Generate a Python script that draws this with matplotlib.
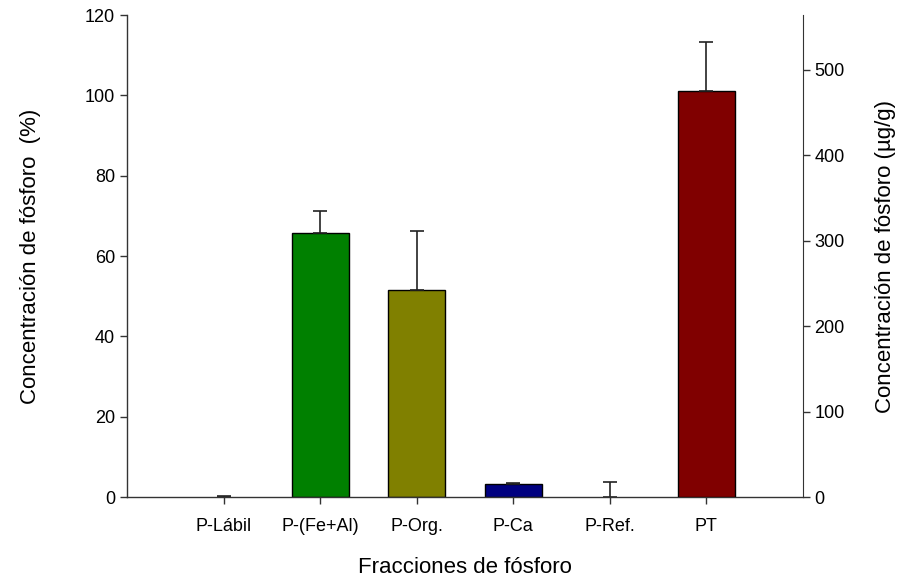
import matplotlib
matplotlib.use("Agg")
import matplotlib.pyplot as plt

plt.rcParams['font.family'] = ['Liberation Sans', 'DejaVu Sans']

categories = ["P-Lábil", "P-(Fe+Al)", "P-Org.", "P-Ca", "P-Ref.", "PT"]
pct_values = [0.0, 65.8, 51.5, 3.2, 0.0]
pct_errors = [0.3, 5.4, 14.7, 0.4, 3.8]
pt_value = [475.0]
pt_error = [57.5]
colors = ["#008000", "#008000", "#808000", "#000080", "#800000", "#800000"]
left_ticks = [0, 20, 40, 60, 80, 100, 120]
right_ticks = [0, 100, 200, 300, 400, 500]

fig = plt.figure(figsize=(8.97, 5.8), dpi=100)
ax = fig.add_axes([0.1416, 0.143, 0.7534, 0.831])
x = list(range(len(categories)))
edge_widths = [1.0 if v > 0 else 0.0 for v in pct_values]
ax.bar(x[:5], pct_values, width=0.59, color=colors[:5], edgecolor="black", linewidth=edge_widths,
       yerr=[[0]*5, pct_errors], error_kw=dict(ecolor="#222222", elinewidth=1.2, capsize=5, capthick=1.2))
ax.set_ylim(0, 120)
ax.set_xlim(-1.0, 6.0)
ax.set_yticks(left_ticks)
ax.set_xticks(x)
ax.set_xticklabels(categories)
ax.spines['top'].set_visible(False)
ax.spines['right'].set_visible(False)
for s in ['left', 'bottom']:
    ax.spines[s].set_color("#333333")
    ax.spines[s].set_linewidth(1.0)
ax.tick_params(axis='both', direction='out', length=5, width=1.0, colors="#333333", labelcolor="black", labelsize=13)
ax.tick_params(axis='x', pad=10)
ax.set_ylabel("Concentración de fósforo  (%)", fontsize=16, labelpad=32)
ax.set_xlabel("Fracciones de fósforo", fontsize=16, labelpad=16)

ax2 = ax.twinx()
ax2.bar([5], pt_value, width=0.59, color=colors[5], edgecolor="black", linewidth=1.0,
        yerr=[[0], pt_error], error_kw=dict(ecolor="#222222", elinewidth=1.2, capsize=5, capthick=1.2))
ax2.set_ylim(0, 564)
ax2.set_yticks(right_ticks)
ax2.spines['top'].set_visible(False)
ax2.spines['left'].set_visible(False)
ax2.spines['bottom'].set_visible(False)
ax2.spines['right'].set_color("#333333")
ax2.tick_params(axis='y', direction='out', length=5, width=1.0, colors="#333333", labelcolor="black", labelsize=13)
ax2.set_ylabel("Concentración de fósforo (µg/g)", fontsize=16, labelpad=22)

fig.savefig("out.png", dpi=100)
